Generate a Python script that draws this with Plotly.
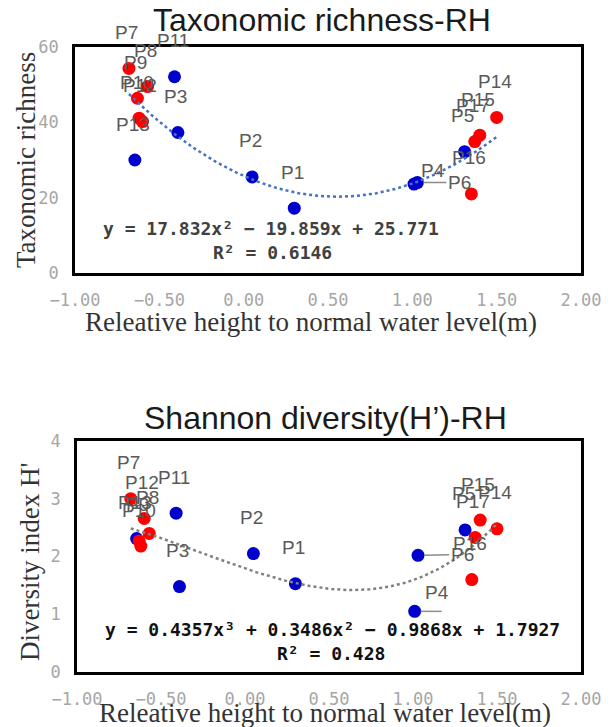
import numpy as np
import plotly.graph_objects as go

# ---------------- data ----------------
names = ["P1", "P2", "P3", "P4", "P5", "P6", "P7", "P8", "P9", "P10",
         "P11", "P12", "P13", "P14", "P15", "P16", "P17"]
rel_height = [0.30, 0.05, -0.39, 1.01, 1.31, 1.03, -0.68, -0.57, -0.63, -0.62,
              -0.41, -0.60, -0.645, 1.50, 1.40, 1.35, 1.37]
richness = [17.2, 25.5, 37.3, 23.6, 32.2, 24.0, 54.3, 49.5, 46.4, 41.1,
            52.1, 40.2, 30.0, 41.3, 36.6, 21.0, 34.9]
shannon = [1.53, 2.05, 1.48, 1.05, 2.46, 2.02, 3.00, 2.40, 2.27, 2.18,
           2.75, 2.66, 2.31, 2.48, 2.63, 1.60, 2.33]
group = ["blue", "blue", "blue", "blue", "blue", "blue", "red", "red", "red", "red",
         "blue", "red", "blue", "red", "red", "red", "red"]

rich_coef = [17.832, -19.859, 25.771]
shan_coef = [0.4357, 0.3486, -0.9868, 1.7927]
rich_eq = "y = 17.832x² − 19.859x + 25.771"
rich_r2 = "R² = 0.6146"
shan_eq = "y = 0.4357x³ + 0.3486x² − 0.9868x + 1.7927"
shan_r2 = "R² = 0.428"

x_ticks = [-1.0, -0.5, 0.0, 0.5, 1.0, 1.5, 2.0]

# ---------------- styles ----------------
W, H = 612, 727
COL = {"blue": "#0000CC", "red": "#FF0000"}
label_font = dict(family="Liberation Sans, Arial", size=19, color="#595959")
tick_font = dict(family="DejaVu Sans Mono", size=17, color="#A6A6A6")
serif = "Liberation Serif, Times New Roman"


def px2paper_x(px):
    return px / W


def px2paper_y(py):
    return 1 - py / H


def paper_text(pos, text, font, angle=0):
    return dict(x=px2paper_x(pos[0]), y=px2paper_y(pos[1]), xref="paper", yref="paper",
                xanchor="center", yanchor="middle", text=text, showarrow=False,
                textangle=angle, font=font)


fig = go.Figure()

panels = [
    dict(xa="x", ya="y", vals=richness, coef=rich_coef, trend_col="#4472C4",
         xdom=[75, 581], ydom=[47, 273], yrange=[0, 60], dtick=20,
         title="Taxonomic richness-RH", title_pos=(322, 20),
         ytitle="Taxonomic richness", ytitle_pos=(26, 160),
         xtitle_pos=(311, 322),
         eq=rich_eq, r2=rich_r2, eq_pos=(271, 228), r2_pos=(272, 252), eq_col="#404040",
         special={"P4": dict(dx=19, dy=-14), "P6": dict(dx=42, dy=0, leader=True)}),
    dict(xa="x2", ya="y2", vals=shannon, coef=shan_coef, trend_col="#808080",
         xdom=[77, 581], ydom=[441, 672], yrange=[0, 4], dtick=1,
         title="Shannon diversity(H’)-RH", title_pos=(325, 418),
         ytitle="Diversity index H'", ytitle_pos=(30, 562),
         xtitle_pos=(325, 713),
         eq=shan_eq, r2=shan_r2, eq_pos=(332, 629), r2_pos=(331, 653), eq_col="#111111",
         special={"P6": dict(dx=44, dy=-1, leader=True),
                  "P4": dict(dx=22, dy=-19, leader_h=True)}),
]

annotations = []
shapes = []
for i, p in enumerate(panels):
    # markers: blue first, red on top
    for g in ["blue", "red"]:
        xs = [x for x, gg in zip(rel_height, group) if gg == g]
        ys = [v for v, gg in zip(p["vals"], group) if gg == g]
        fig.add_trace(go.Scatter(x=xs, y=ys, mode="markers", xaxis=p["xa"], yaxis=p["ya"],
                                 marker=dict(color=COL[g], size=13, line=dict(width=0)),
                                 showlegend=False, hoverinfo="skip"))
    # trendline from the fitted equation shown on the chart
    xt = np.linspace(min(rel_height), max(rel_height), 200)
    yt = np.polyval(p["coef"], xt)
    fig.add_trace(go.Scatter(x=xt, y=yt, mode="lines", xaxis=p["xa"], yaxis=p["ya"],
                             line=dict(color=p["trend_col"], width=2.5, dash="dot"),
                             showlegend=False, hoverinfo="skip"))

    # data labels
    for n, x, y in zip(names, rel_height, p["vals"]):
        sp = p["special"].get(n)
        if sp and sp.get("leader"):
            annotations.append(dict(x=x, y=y, xref=p["xa"], yref=p["ya"], text=n,
                                    showarrow=True, arrowhead=0, arrowwidth=1.5,
                                    arrowcolor="#8C8C8C", ax=sp["dx"], ay=sp["dy"],
                                    standoff=6, font=label_font))
        elif sp:
            annotations.append(dict(x=x, y=y, xref=p["xa"], yref=p["ya"], text=n,
                                    showarrow=False, xshift=sp["dx"], yshift=-sp["dy"],
                                    font=label_font))
            if sp.get("leader_h"):
                shapes.append(dict(type="line", xref=p["xa"], yref=p["ya"],
                                   xsizemode="pixel", ysizemode="pixel",
                                   xanchor=x, yanchor=y, x0=6, x1=27, y0=0, y1=0,
                                   line=dict(color="#8C8C8C", width=1.5)))
        else:
            annotations.append(dict(x=x, y=y, xref=p["xa"], yref=p["ya"], text=n,
                                    showarrow=False, xshift=-2, yshift=36,
                                    font=label_font))

    annotations.append(paper_text(p["title_pos"], p["title"],
                                  dict(family="Liberation Sans, Arial", size=32, color="#1a1a1a")))
    annotations.append(paper_text(p["ytitle_pos"], p["ytitle"],
                                  dict(family=serif, size=27, color="#333333"), angle=-90))
    annotations.append(paper_text(p["xtitle_pos"], "Releative height to normal water level(m)",
                                  dict(family=serif, size=27, color="#333333")))
    annotations.append(paper_text(p["eq_pos"], "<b>" + p["eq"] + "</b>",
                                  dict(family="DejaVu Sans Mono", size=18, color=p["eq_col"])))
    annotations.append(paper_text(p["r2_pos"], "<b>" + p["r2"] + "</b>",
                                  dict(family="DejaVu Sans Mono", size=18, color=p["eq_col"])))

    axis_common = dict(showline=True, mirror=True, linecolor="black", linewidth=2.5,
                       showgrid=False, zeroline=False, ticks="", tickfont=tick_font,
                       automargin=False, ticklabelstandoff=10)
    xk = "xaxis" if i == 0 else "xaxis2"
    yk = "yaxis" if i == 0 else "yaxis2"
    fig.update_layout(**{
        xk: dict(domain=[p["xdom"][0] / W, p["xdom"][1] / W], range=[-1, 2],
                 tickvals=x_ticks, tickformat=".2f", anchor=p["ya"], **axis_common),
        yk: dict(domain=[1 - p["ydom"][1] / H, 1 - p["ydom"][0] / H], range=p["yrange"],
                 dtick=p["dtick"], anchor=p["xa"], **axis_common),
    })

fig.update_layout(width=W, height=H, margin=dict(l=0, r=0, t=0, b=0, autoexpand=False),
                  paper_bgcolor="white", plot_bgcolor="white",
                  annotations=annotations, shapes=shapes, showlegend=False)

fig.write_html("out.html", config={"displayModeBar": False},
               post_script="document.body.style.margin='0';document.body.style.overflow='hidden';")
